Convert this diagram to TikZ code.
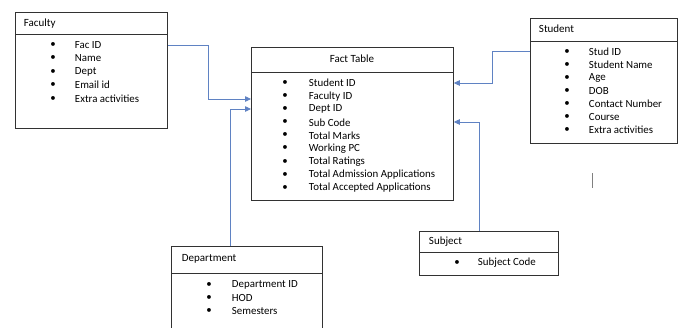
\documentclass[tikz,border=0pt]{standalone}
\usepackage{fontspec}
\setmainfont{Carlito}
\usetikzlibrary{arrows.meta}

\tikzset{
  tablebox/.style={draw={rgb,255:red,50;green,50;blue,50},line width=0.8pt,anchor=north west,inner sep=0pt},
  tablehead/.style={anchor=west,inner sep=0.75pt,font=\fontsize{11}{13}\selectfont},
  itemtext/.style={anchor=west,inner sep=0.75pt,font=\fontsize{10.9}{13}\selectfont},
  itemdot/.style={inner sep=0pt,font=\fontsize{10.9}{13}\selectfont},
  link/.style={draw={rgb,255:red,95;green,130;blue,195},line width=0.8pt,-{Triangle[length=6pt,width=5.5pt]}}
}

\begin{document}
\begin{tikzpicture}[x=1pt,y=1pt,yscale=-1,xscale=1]
\clip (0,0) rectangle (678,327);
\fill[white] (0,0) rectangle (678,327);

%Faculty
\node[tablebox,minimum width=152pt,minimum height=116pt] (faculty) at (15,12) {};
\draw[tablebox] (faculty.west |- 0,34) -- (faculty.east |- 0,34);
\node[tablehead] (facultyhead) at (23,24) {Faculty};
\foreach \txt [count=\i] in {Fac ID,Name,Dept,Email id,Extra activities}{
  \node[itemdot] at (53,{45+13.4*(\i-1)}) {\textbullet};
  \node[itemtext] (f\i) at (74,{45+13.4*(\i-1)}) {\txt};
}

%Fact Table
\node[tablebox,minimum width=202pt,minimum height=153pt] (fact) at (251,47) {};
\draw[tablebox] (fact.west |- 0,72) -- (fact.east |- 0,72);
\node[tablehead,anchor=center] (facthead) at (352,59) {Fact Table};
\foreach \txt [count=\i] in {Student ID,Faculty ID,Dept ID,Sub Code,Total Marks,Working PC,Total Ratings,Total Admission Applications,Total Accepted Applications}{
  \node[itemdot] at (285,{83+13.1*(\i-1)}) {\textbullet};
  \node[itemtext] (k\i) at (308,{83+13.1*(\i-1)}) {\txt};
}

%Student
\node[tablebox,minimum width=147pt,minimum height=125pt] (student) at (530,18) {};
\draw[tablebox] (student.west |- 0,41) -- (student.east |- 0,41);
\node[tablehead] (studenthead) at (538,29) {Student};
\foreach \txt [count=\i] in {Stud ID,Student Name,Age,DOB,Contact Number,Course,Extra activities}{
  \node[itemdot] at (567,{52+13*(\i-1)}) {\textbullet};
  \node[itemtext] (s\i) at (588,{52+13*(\i-1)}) {\txt};
}

%Department
\node[tablebox,minimum width=151pt,minimum height=95pt] (dept) at (171,246) {};
\draw[tablebox] (dept.west |- 0,273) -- (dept.east |- 0,273);
\node[tablehead] (depthead) at (181,259) {Department};
\foreach \txt [count=\i] in {Department ID,HOD,Semesters}{
  \node[itemdot] at (209,{285+13*(\i-1)}) {\textbullet};
  \node[itemtext] (d\i) at (231,{285+13*(\i-1)}) {\txt};
}

%Subject
\node[tablebox,minimum width=139pt,minimum height=44pt] (subject) at (419,231) {};
\draw[tablebox] (subject.west |- 0,252) -- (subject.east |- 0,252);
\node[tablehead] (subjecthead) at (428,242) {Subject};
\node[itemdot] at (457,263) {\textbullet};
\node[itemtext] (j1) at (477,263) {Subject Code};

%Connectors
\coordinate (facbend) at (208,45);
\coordinate (studbend) at (492,51);
\coordinate (deptfoot) at (230,246);
\coordinate (subjfoot) at (479,231);
\draw[link] (faculty.east |- facbend) -- (facbend) |- (fact.west |- 0,99);
\draw[link] (deptfoot) |- (fact.west |- 0,109);
\draw[link] (student.west |- studbend) -- (studbend) |- (fact.east |- k1);
\draw[link] (subjfoot) |- (fact.east |- 0,122);

%stray mark
\draw[line width=0.6pt,gray] (592,173) -- (592,188);
\end{tikzpicture}
\end{document}
